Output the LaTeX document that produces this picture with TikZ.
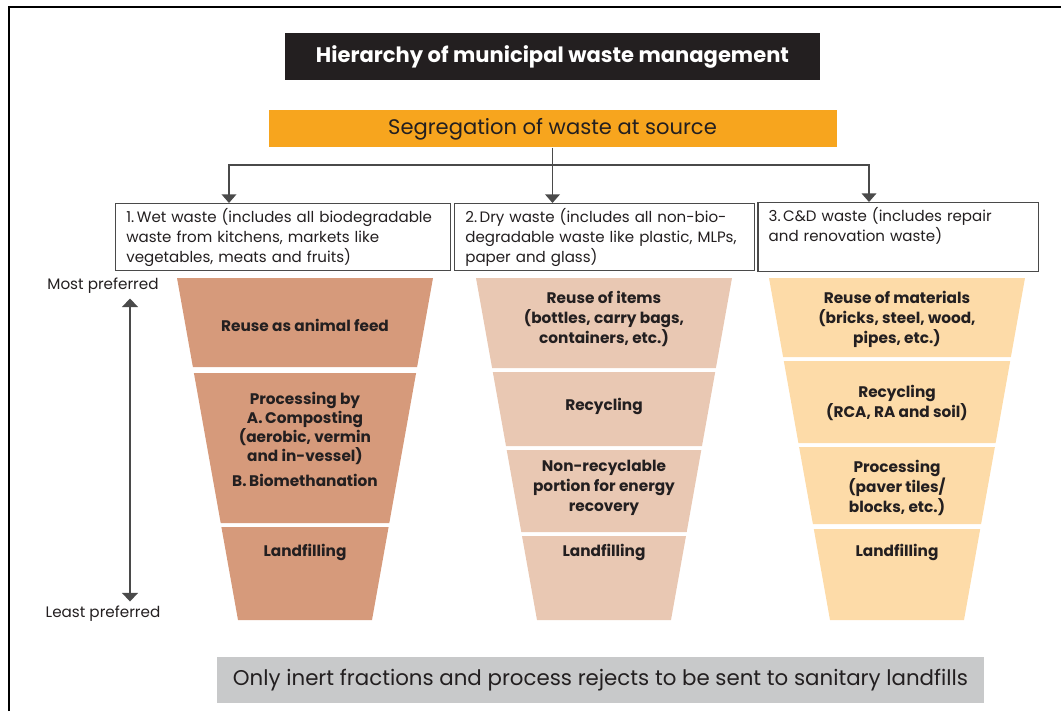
\documentclass[tikz,border=0pt]{standalone}
\usepackage{fontspec}
\setmainfont{Poppins}
\usetikzlibrary{positioning,arrows.meta}

\definecolor{titleBlack}{HTML}{231F20}
\definecolor{sourceOrange}{HTML}{F7A51E}
\definecolor{wetFill}{HTML}{D69A7B}
\definecolor{dryFill}{HTML}{E9C8B3}
\definecolor{cdFill}{HTML}{FDDBA8}
\definecolor{noteGrey}{HTML}{C8C9CA}
\definecolor{lineGrey}{HTML}{4A4A4A}
\definecolor{inkDark}{HTML}{231F20}

\tikzstyle{titleNode} = [rectangle, minimum width=401pt, minimum height=35pt, text centered, fill=titleBlack, text=white, font=\bfseries\fontsize{15.8}{18}\selectfont]
\tikzstyle{sourceNode} = [rectangle, minimum width=426pt, minimum height=27.75pt, text centered, fill=sourceOrange, text=inkDark, font=\fontsize{15.8}{18}\selectfont]
\tikzstyle{wasteBox} = [rectangle, minimum height=49.5pt, inner xsep=8pt, align=left, draw=lineGrey, line width=1pt, fill=white, text=inkDark, font=\fontsize{11.3}{15}\selectfont]
\tikzstyle{stepText} = [align=center, text=inkDark, font=\bfseries\fontsize{11.5}{15}\selectfont]
\tikzstyle{prefText} = [text=inkDark, font=\fontsize{11.4}{13}\selectfont]
\tikzstyle{noteNode} = [rectangle, minimum width=575pt, minimum height=34.5pt, text centered, fill=noteGrey, text=inkDark, font=\fontsize{16}{18}\selectfont]
\tikzstyle{arrow} = [draw=lineGrey, line width=1.1pt, -{Triangle[width=11pt,length=6.5pt]}]
\tikzstyle{updown} = [draw=lineGrey, line width=1.1pt, {Triangle[width=12pt,length=6.5pt]}-{Triangle[width=12pt,length=6.5pt]}]

\begin{document}
\begin{tikzpicture}[x=0.75pt,y=-0.75pt]
    \useasboundingbox (0,0) rectangle (1061,711);
    % frame
    \draw[line width=1.6pt] (9,711) -- (9,7) -- (1061,7);

    \node (title)[titleNode] at (552.5,56.5) {Hierarchy of municipal waste management};
    \node (source)[sourceNode, below=22.5pt of title] {Segregation of waste at source};

    \node (wet)[wasteBox, text width=235.25pt, anchor=north west] at (115,203) {1.\,Wet waste (includes all biodegradable\\waste from kitchens, markets like\\vegetables, meats and fruits)};
    \node (dry)[wasteBox, text width=209pt, right=2pt of wet] {2.\,Dry waste (includes all non-bio-\\degradable waste like plastic, MLPs,\\paper and glass)};
    \node (cd)[wasteBox, text width=194.5pt, right=1.5pt of dry] {3.\,C\&D waste (includes repair\\and renovation waste)\\\strut};

    \coordinate (split) at (552,165);
    \coordinate (wetDrop) at (229,165);
    \coordinate (cdDrop) at (869,165);
    \draw[arrow] (source.south) -- (source.south |- dry.north);
    \draw[arrow] (split) -| (wetDrop |- wet.north);
    \draw[arrow] (split) -| (cdDrop |- cd.north);

    % wet waste funnel
    \fill[wetFill] (177,278) -- (433,278) -- (417.1,367) -- (192.9,367) -- cycle;
    \fill[wetFill] (193.9,373) -- (416.1,373) -- (389.3,523) -- (220.7,523) -- cycle;
    \fill[wetFill] (221.4,527) -- (388.6,527) -- (372,620) -- (238,620) -- cycle;
    % dry waste funnel
    \fill[dryFill] (476,278) -- (732,278) -- (715.9,368) -- (492.1,368) -- cycle;
    \fill[dryFill] (492.8,372) -- (715.2,372) -- (702,446) -- (506,446) -- cycle;
    \fill[dryFill] (506.7,450) -- (701.3,450) -- (686.7,532) -- (521.3,532) -- cycle;
    \fill[dryFill] (522,536) -- (686,536) -- (671,620) -- (537,620) -- cycle;
    % C&D waste funnel
    \fill[cdFill] (769,278) -- (1025,278) -- (1010.9,357) -- (783.1,357) -- cycle;
    \fill[cdFill] (783.8,361) -- (1010.2,361) -- (995.6,443) -- (798.4,443) -- cycle;
    \fill[cdFill] (799.1,447) -- (994.9,447) -- (981.1,524) -- (812.9,524) -- cycle;
    \fill[cdFill] (813.8,529) -- (980.2,529) -- (964,620) -- (830,620) -- cycle;

    \node (wetReuse)[stepText] at (305,325) {Reuse as animal feed};
    \node (wetProc)[stepText, font=\bfseries\fontsize{11.5}{14.25}\selectfont] at (305,439.5) {Processing by\\A.\,Composting\\(aerobic, vermin\\and in-vessel)\\[5pt]B.\,Biomethanation};
    \node (wetLand)[stepText] at (305,552) {Landfilling};

    \node (dryReuse)[stepText] at (604,319) {Reuse of items\\(bottles, carry bags,\\containers, etc.)};
    \node (dryRecycle)[stepText] at (604,406) {Recycling};
    \node (dryEnergy)[stepText] at (604,488) {Non-recyclable\\portion for energy\\recovery};
    \node (dryLand)[stepText] at (604,552) {Landfilling};

    \node (cdReuse)[stepText] at (897,319) {Reuse of materials\\(bricks, steel, wood,\\pipes, etc.)};
    \node (cdRecycle)[stepText] at (897,402.5) {Recycling\\(RCA, RA and soil)};
    \node (cdProc)[stepText] at (897,488) {Processing\\(paver tiles/\\blocks, etc.)};
    \node (cdLand)[stepText] at (897,552) {Landfilling};

    \node (most)[prefText] at (103,286) {Most preferred};
    \node (least)[prefText] at (103,614) {Least preferred};
    \coordinate (scale) at (130,450);
    \draw[updown] (scale |- most.south) -- (scale |- least.north);

    \node (note)[noteNode] at (600.5,680) {Only inert fractions and process rejects to be sent to sanitary landfills};
\end{tikzpicture}
\end{document}
